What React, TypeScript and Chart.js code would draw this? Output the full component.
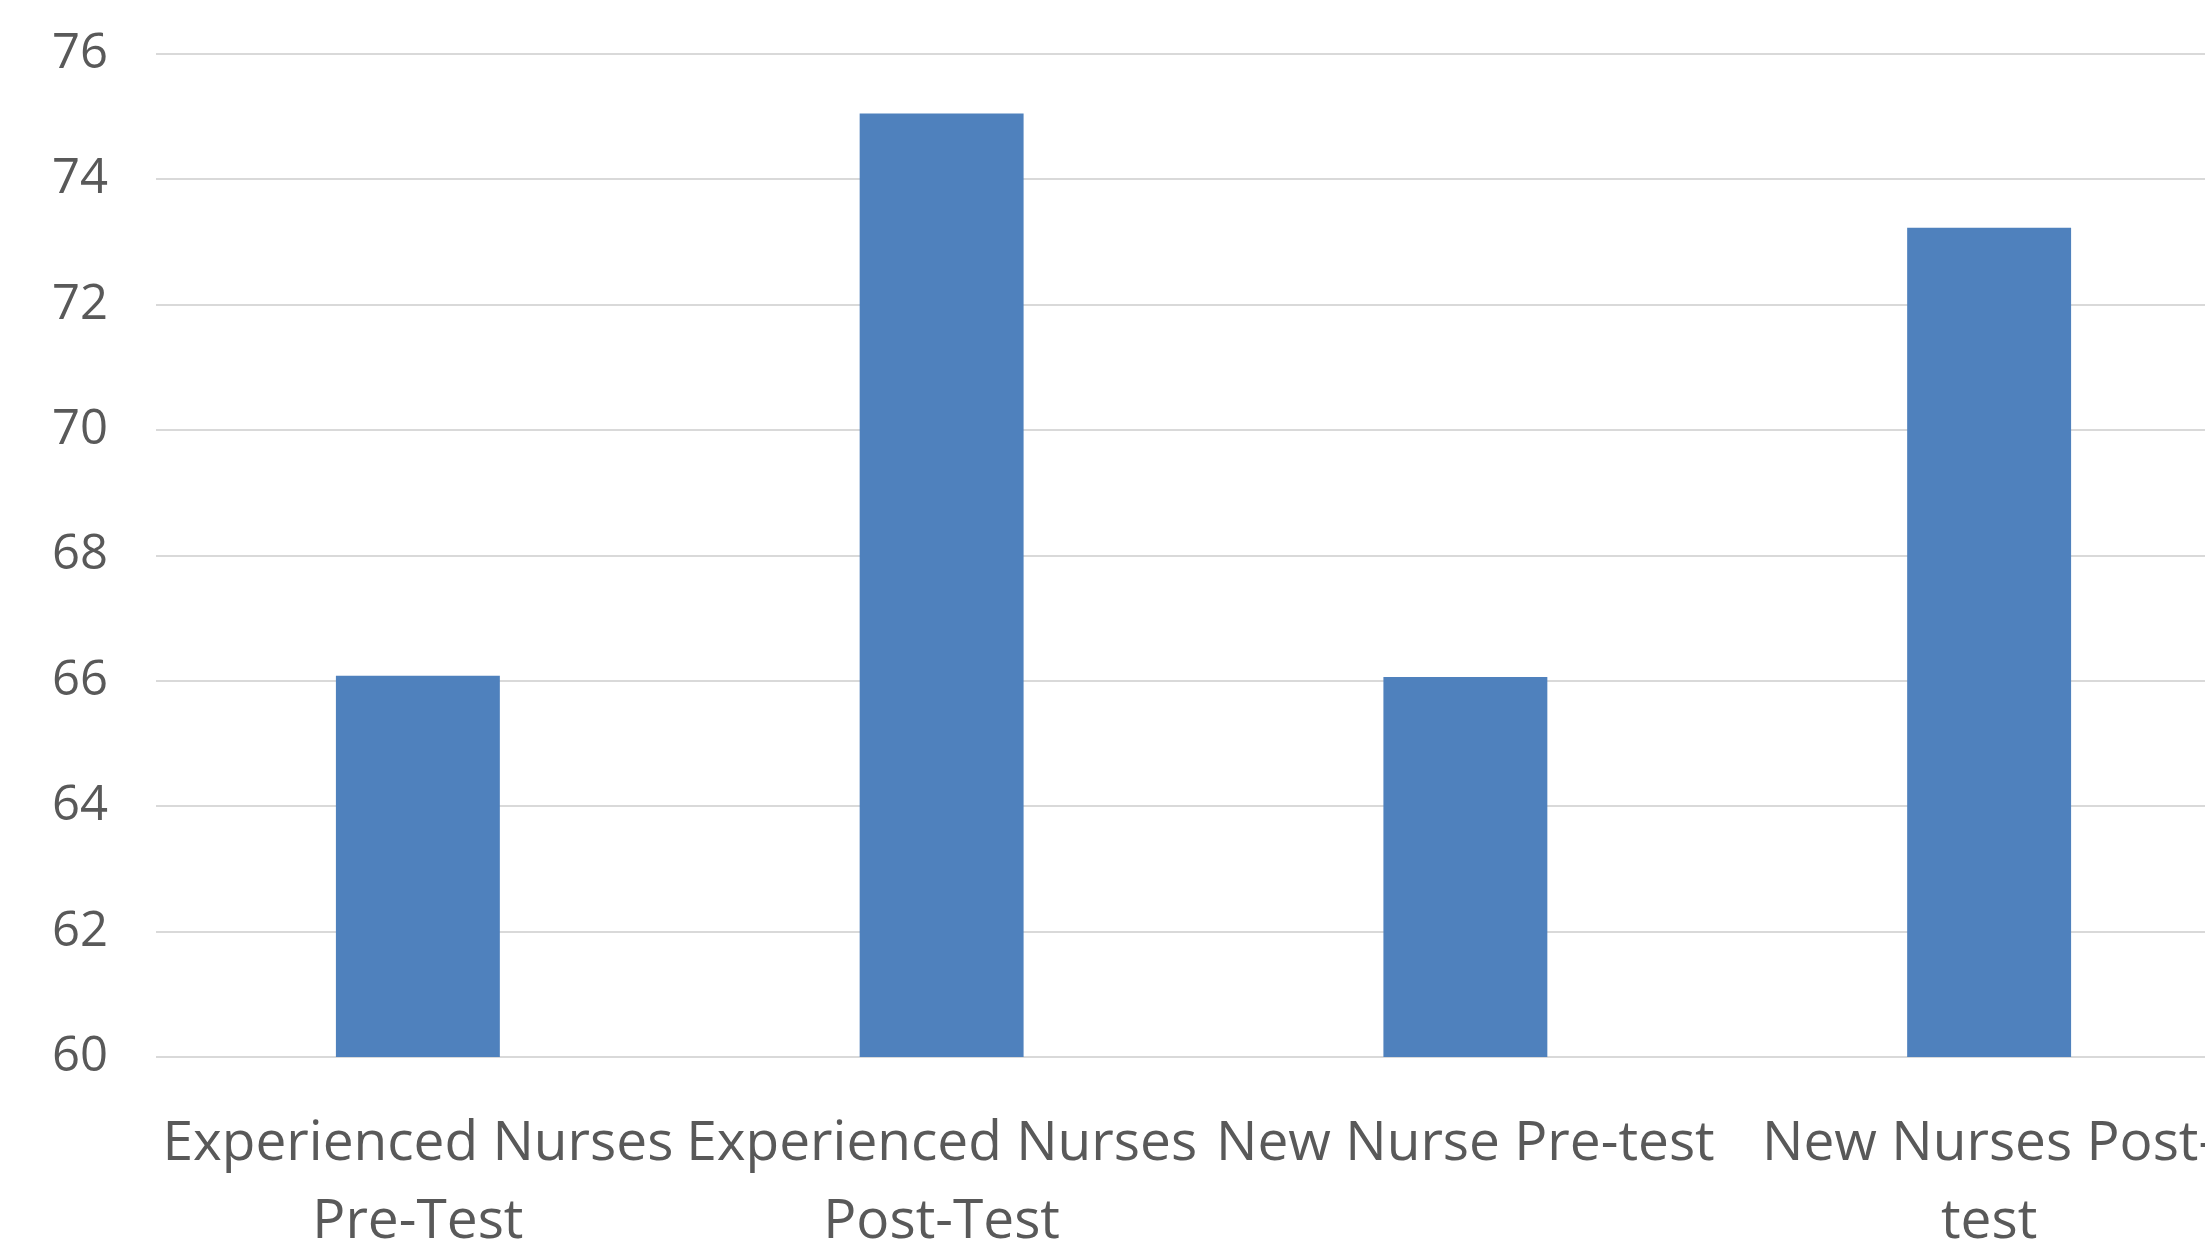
import React, { useEffect, useRef } from "react";
import { Chart, registerables } from "chart.js";

Chart.register(...registerables);

const categories: (string | string[])[] = [
  ["Experienced Nurses", "Pre-Test"],
  ["Experienced Nurses", "Post-Test"],
  "New Nurse Pre-test",
  ["New Nurses Post-", "test"],
];
const scores = [66.08, 75.05, 66.06, 73.23];
const yMin = 60;
const yMax = 76;
const yStep = 2;

const CANVAS_W = 2300;
const CANVAS_H = 1260;
const PLOT_LEFT = 156;
const TOP_PAD = 54;
const PLOT_BOTTOM = 1057;
const PLOT_RIGHT = 2251;

export default function App() {
  const ref = useRef<HTMLCanvasElement | null>(null);

  useEffect(() => {
    if (!ref.current) return;
    const chart = new Chart(ref.current, {
      type: "bar",
      data: {
        labels: categories,
        datasets: [
          {
            data: scores,
            backgroundColor: "#4f81bd",
            borderWidth: 0,
            barPercentage: 1,
            categoryPercentage: 0.313,
          },
        ],
      },
      options: {
        responsive: false,
        animation: false,
        devicePixelRatio: 1,
        layout: {
          padding: { left: 0, top: TOP_PAD, right: CANVAS_W - PLOT_RIGHT, bottom: 0 },
        },
        plugins: {
          legend: { display: false },
          tooltip: { enabled: false },
          title: { display: false },
        },
        scales: {
          x: {
            grid: { display: false, drawTicks: false },
            border: { display: false },
            ticks: {
              autoSkip: false,
              maxRotation: 0,
              minRotation: 0,
              padding: 48,
              color: "#595959",
              font: { family: "'Open Sans'", size: 55, lineHeight: 1.418 },
            },
            afterFit: (scale: any) => {
              scale.height = CANVAS_H - PLOT_BOTTOM;
              scale.paddingTop = 0;
              scale.paddingBottom = 0;
              scale.paddingLeft = 0;
              scale.paddingRight = 0;
            },
          },
          y: {
            min: yMin,
            max: yMax,
            grid: { color: "#d9d9d9", lineWidth: 2, drawTicks: false },
            border: { display: false },
            ticks: {
              stepSize: yStep,
              padding: 48,
              color: "#595959",
              font: { family: "'Open Sans'", size: 49 },
            },
            afterFit: (scale: any) => {
              scale.width = PLOT_LEFT;
              scale.paddingTop = 0;
              scale.paddingBottom = 0;
            },
          },
        },
      },
    });
    return () => chart.destroy();
  }, []);

  return (
    <div
      style={{
        position: "fixed",
        left: 0,
        top: 0,
        width: 2205,
        height: 1241,
        overflow: "hidden",
        background: "#ffffff",
      }}
    >
      <canvas
        ref={ref}
        width={CANVAS_W}
        height={CANVAS_H}
        style={{ display: "block", width: CANVAS_W, height: CANVAS_H }}
      />
    </div>
  );
}
